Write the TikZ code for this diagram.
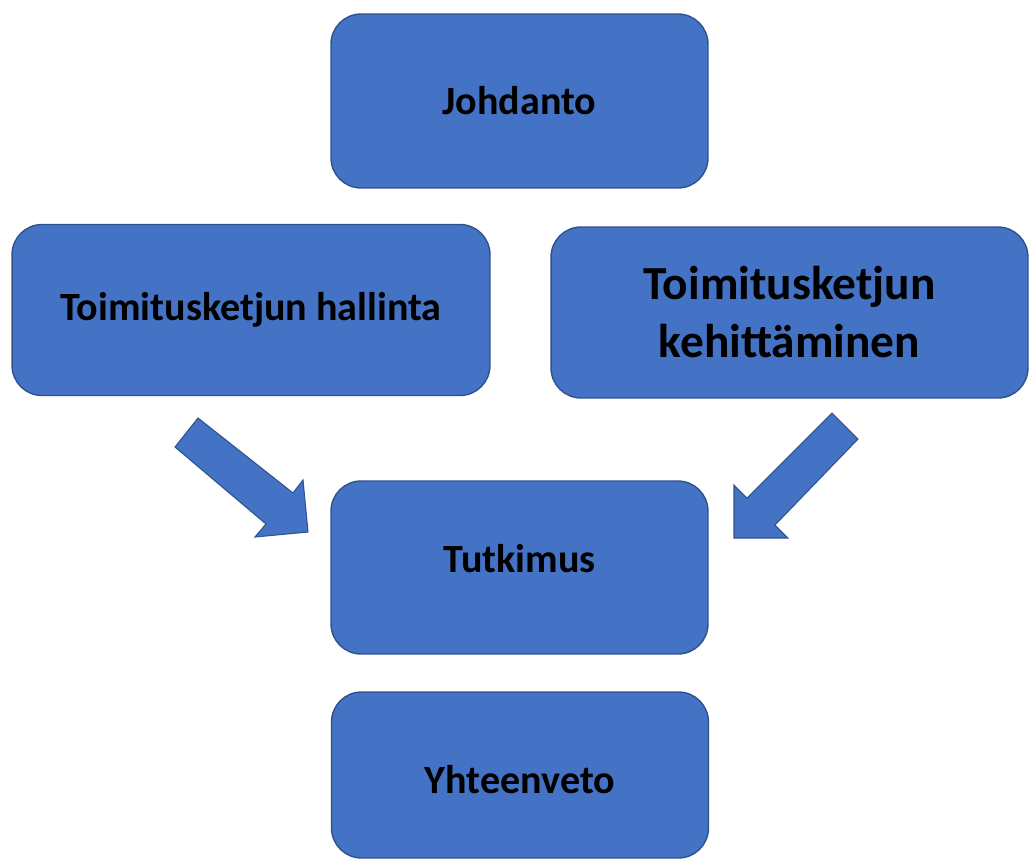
\documentclass[tikz,border=0pt]{standalone}
\usepackage{fontspec}
\setmainfont{Carlito}
\usetikzlibrary{positioning}

\definecolor{boxblue}{HTML}{4472C4}
\definecolor{boxline}{HTML}{2F528F}

\tikzset{
  block/.style={draw=boxline,line width=0.8pt,fill=boxblue,rounded corners=0.6cm,
    align=center,inner sep=0pt,font=\fontsize{22.8}{27.8}\selectfont\bfseries},
  bigtext/.style={font=\fontsize{27}{33}\selectfont\bfseries},
  blockarrow/.style={draw=boxline,line width=0.6pt,fill=boxblue}
}

\begin{document}
\begin{tikzpicture}[x=0.02cm,y=-0.02cm]
  \useasboundingbox (0,0) rectangle (1029,860);

  \node[block,minimum width=7.54cm,minimum height=3.48cm] (johdanto) at (519.5,101) {Johdanto};
  \node[block,minimum width=9.56cm,minimum height=3.42cm] (hallinta) at (251,310) {Toimitusketjun hallinta};
  \node[block,bigtext,minimum width=9.54cm,minimum height=3.42cm] (kehitys) at (789.5,312.5) {Toimitusketjun\\kehittäminen};
  \node[block,text depth=0.36cm,minimum width=7.54cm,minimum height=3.46cm] (tutkimus) at (519.5,567.5) {Tutkimus};
  \node[block,text height=0.75cm,minimum width=7.54cm,minimum height=3.32cm] (yhteenveto) at (520,775) {Yhteenveto};

  % block arrows towards Tutkimus
  \filldraw[blockarrow] (198,418) -- (175,447) -- (266,524) -- (255,537)
    -- (308,532) -- (303,480) -- (293,493) -- cycle;
  \filldraw[blockarrow] (832,413) -- (858,439) -- (775,525) -- (788,538)
    -- (734,538) -- (734,485) -- (747,498) -- cycle;
\end{tikzpicture}
\end{document}
